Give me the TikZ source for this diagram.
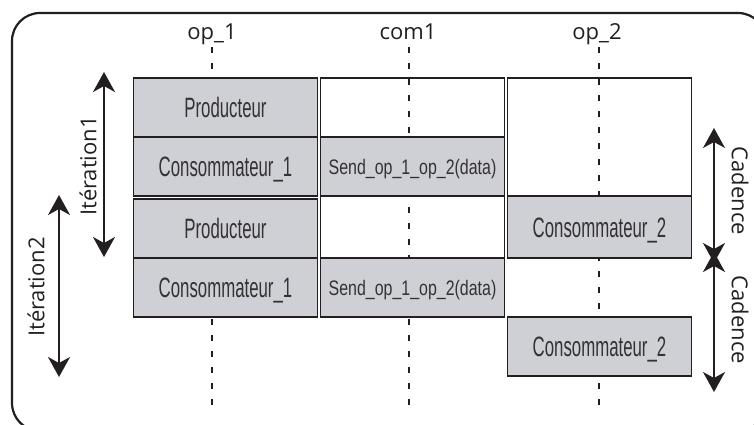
\documentclass[tikz,border=0pt]{standalone}
\usepackage{fontspec}
\usetikzlibrary{positioning, arrows.meta}
\newfontfamily\labelfont{Open Sans}
\newfontfamily\cellfont[FakeStretch=0.6]{Liberation Sans}
\newfontfamily\sendfont[FakeStretch=0.76]{Liberation Sans}
\definecolor{cellGray}{HTML}{CFCFD6}
\definecolor{inkBlack}{HTML}{231F20}
\definecolor{cellText}{HTML}{333333}

\begin{document}
\begin{tikzpicture}[
    x=1pt, y=-1pt,
    cell/.style={draw=inkBlack, line width=1.4pt, minimum width=184pt,
                 minimum height=59pt, inner sep=0pt, outer sep=0pt},
    busy/.style={cell, fill=cellGray, text=cellText, text height=20pt, text depth=0pt,
                 font=\cellfont\fontsize{28}{30}\selectfont},
    send/.style={busy, text height=15pt, font=\sendfont\fontsize{21}{24}\selectfont},
    idle/.style={cell},
    procname/.style={text=inkBlack, font=\labelfont\fontsize{22}{26}\selectfont, anchor=base},
    spanlbl/.style={text=inkBlack, font=\labelfont\fontsize{22}{26}\selectfont},
    lifeline/.style={draw=inkBlack, line width=1.2pt, dash pattern=on 6pt off 10pt},
    span/.style={{Stealth[length=20pt, width=22pt, inset=6pt]}-{Stealth[length=20pt, width=22pt, inset=6pt]},
                 line width=2pt, draw=inkBlack},
  ]
    \useasboundingbox (0,0) rectangle (754,424);

    % outer frame (runs past the right and bottom edges)
    \begin{scope}
      \clip (0,0) rectangle (754,424);
      \draw[draw=inkBlack, line width=2.2pt, rounded corners=28pt] (12,13) rectangle (766,431);
    \end{scope}

    % processes and their life lines
    \node[procname] (op1)  at (212,39) {op\_1};
    \node[procname] (com1) at (408,39) {com1};
    \node[procname] (op2)  at (597,39) {op\_2};
    \foreach \x in {212, 409, 599}
      \draw[lifeline] (\x,47) -- (\x,405);

    % op_1
    \node[busy, anchor=north west] (prodA) at (133.5,78) {Producteur};
    \node[busy, below=0pt of prodA] (consA) {Consommateur\_1};
    \node[busy, below=3pt of consA] (prodB) {Producteur};
    \node[busy, below=0pt of prodB] (consB) {Consommateur\_1};

    % com1
    \node[idle, right=3pt of prodA] (waitA) {};
    \node[send, right=3pt of consA] (sendA) {Send\_op\_1\_op\_2(data)};
    \node[idle, minimum height=62pt, right=3pt of prodB.south east, anchor=south west] (waitB) {};
    \node[send, right=3pt of consB] (sendB) {Send\_op\_1\_op\_2(data)};

    % op_2
    \node[idle, minimum height=118pt, right=3pt of waitA.north east, anchor=north west] (waitC) {};
    \node[busy, minimum height=62pt, below=0pt of waitC] (consC) {Consommateur\_2};
    \node[busy, right=3pt of sendB.south east, anchor=north west] (consD) {Consommateur\_2};

    % iterations
    \coordinate (itAtop) at (104,72);
    \coordinate (itAbot) at (104,257);
    \coordinate (itBtop) at (59,195);
    \coordinate (itBbot) at (59,377);
    \draw[span] (itAtop) -- (itAbot);
    \draw[span] (itBtop) -- (itBbot);
    \node[spanlbl, rotate=90] (itAlbl) at (88,166) {Itération1};
    \node[spanlbl, rotate=90] (itBlbl) at (36,287) {Itération2};

    % cadence
    \coordinate (cadAtop) at (714,128);
    \coordinate (cadAbot) at (714,263);
    \coordinate (cadBtop) at (714,252);
    \coordinate (cadBbot) at (714,392);
    \draw[span] (cadAtop) -- (cadAbot);
    \draw[span] (cadBtop) -- (cadBbot);
    \node[spanlbl, rotate=-90] (cadAlbl) at (740,191) {Cadence};
    \node[spanlbl, rotate=-90] (cadBlbl) at (740,320) {Cadence};
\end{tikzpicture}
\end{document}
